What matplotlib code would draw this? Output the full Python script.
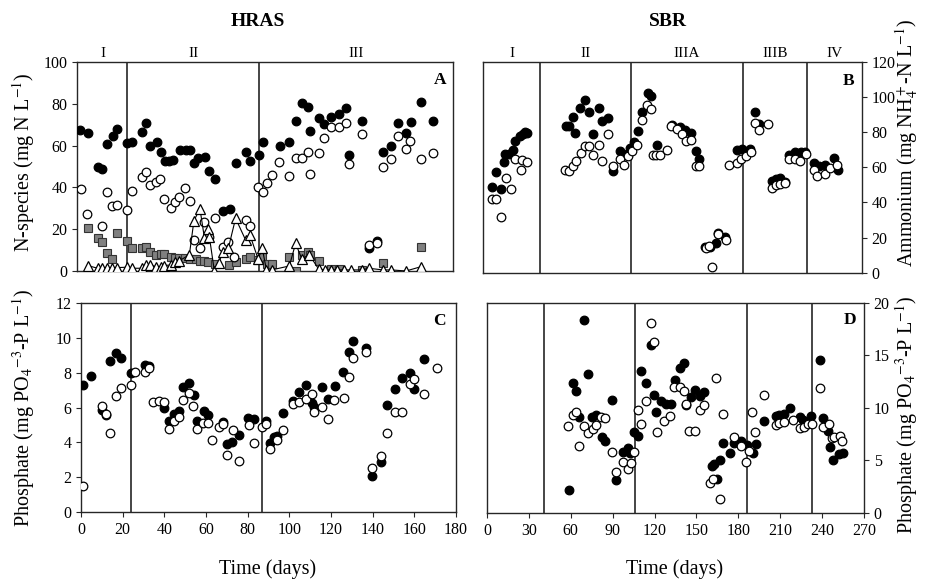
import matplotlib
matplotlib.use("Agg")
import matplotlib.pyplot as plt
import matplotlib.transforms as mtransforms

plt.rcParams['font.family'] = 'Liberation Serif'
plt.rcParams['mathtext.fontset'] = 'stix'

# ---- HRAS, panel A (N-species) ----
a_filled_day = [1, 5, 10, 12, 14, 17, 19, 24, 26, 31, 33, 35, 38, 40, 42, 44, 46, 49, 52, 54,
                56, 58, 61, 63, 66, 70, 73, 76, 81, 83, 87, 89, 97, 101.5, 104.7, 107.6, 110.7,
                111.7, 115.7, 118.5, 121.7, 125.7, 128.7, 130.5, 136.7, 139.7, 143.7, 146.7,
                150.7, 153.7, 157.7, 160, 165, 170.5]
a_filled_val = [67.5, 65.9, 49.6, 48.6, 60.8, 64.6, 67.9, 61.1, 61.9, 66.7, 71, 60, 61.6, 57.1,
                52.6, 52.6, 53, 57.9, 57.9, 57.9, 51.8, 53.9, 54.7, 47.8, 44, 28.9, 29.5, 51.5,
                56.8, 52.6, 55.5, 61.6, 60, 61.9, 71.9, 80.2, 78.6, 67, 73, 70.3, 73.5, 75.1,
                78.1, 55.5, 71.9, 11.2, 14.4, 57.1, 59.8, 70.7, 66.2, 71.5, 80.7, 71.8]

a_open_day = [1.7, 4.7, 11.9, 14, 16.7, 18.8, 23.9, 26, 30.8, 32.7, 35, 37.5, 39.7, 41.7, 44.9,
              46.8, 48.7, 51.8, 53.9, 55.9, 58.8, 60.9, 63.1, 66, 69.7, 72.4, 75.3, 80.7, 82.8,
              86.5, 88.9, 90.8, 93.5, 96.9, 101.7, 104.7, 107.7, 110.7, 111.7, 115.7, 118.5,
              121.7, 125.7, 128.7, 130.5, 136.7, 139.7, 143.7, 146.7, 150.7, 153.7, 157.7,
              159.7, 164.7, 170.5]
a_open_val = [39, 27.1, 21.5, 38, 31.3, 31.6, 29.2, 38.3, 45, 47.5, 41.1, 42.4, 44, 34.3, 30.3,
              32.9, 35.6, 39.9, 33.7, 14.8, 11.2, 23.6, 16.4, 25.2, 11.3, 14, 6.9, 24.4, 21.7,
              40.4, 38, 41.9, 45.9, 52, 45.6, 53.9, 53.9, 57.1, 46.3, 56.6, 63.5, 68.7, 68.7,
              71, 51, 65.6, 12.4, 13.2, 49.9, 53.4, 64.6, 58.4, 62.4, 53.4, 56.3]

a_sq_day = [4.9, 9.7, 11.9, 14, 16.7, 18.8, 23.6, 26, 30.8, 32.7, 35, 37.7, 39.9, 41.7, 44.9,
            46.8, 48.7, 51.7, 54, 56.7, 58.7, 60.9, 62.8, 66, 72.7, 75.9, 80.7, 82.8, 86.8,
            88.8, 90.8, 93.5, 101.7, 104.7, 107.7, 110.5, 111.7, 115.7, 121.5, 125.5, 136.7,
            146.7, 164.7]
a_sq_val = [20.4, 15.6, 14, 8.5, 5.6, 18.3, 14.4, 11.2, 10.8, 11.6, 9.3, 7.7, 8, 8, 6.9,
            6.4, 6.1, 6, 5.5, 5.5, 5, 5, 4.5, 3.2, 2.9, 4.1, 5.7, 6.9, 5.3,
            6.9, 3.2, 3.2, 6.5, 0, 7.7, 9.3, 7.7, 4.9, 0.8, 0.8, 0.5,
            3.7, 11.6]

a_tri_day = [4.9, 9.7, 11.7, 14, 16.7, 18.8, 23.7, 26, 30.8, 32.7, 35, 37.7, 39.9, 41.7, 44.9,
             46.8, 48.7, 53.7, 55.9, 58.8, 60.9, 62.8, 63.3, 65.7, 67.9, 69.7, 72.4, 75.9, 80.7,
             82.8, 86.7, 88.7, 90.7, 93.2, 101.7, 104.7, 107.7, 111.3, 115.7, 118.7, 121.7,
             124.7, 128, 131.2, 136.7, 139.7, 146.7, 150.7, 157.7, 164.7]
a_tri_val = [2.6, 1.3, 1.3, 1.3, 1.3, 1.6, 1.8, 1.3, 1.3, 2.9, 2.9, 2, 2, 2.6, 2.9,
             4.5, 4.8, 7.7, 24.1, 29.7, 16, 20.1, 16.4, 0, 3.7, 9.3, 10.8, 25.2, 14.8,
             17.2, 5.7, 10.8, 0.5, 0.5, 2.4, 13.2, 5.7, 7.7, 1, 0.5, 0.5,
             0.5, 0.5, 0.5, 0.5, 1.3, 0.5, 0.5, 0, 2]

# ---- SBR, panel B (ammonium) ----
b_filled_day = [6, 8.8, 12.7, 14.8, 15.5, 18.6, 21.4, 22.6, 26.2, 28.1, 29.7, 31.4, 59, 61.4,
                63.8, 65.4, 69, 72.6, 75.5, 78.6, 82.6, 84.5, 89.2, 92.3, 97.6, 102.3, 104.7,
                107.6, 110.5, 113.3, 117.4, 119.4, 124.2, 134.5, 140.4, 144, 148, 151.9, 154.2,
                158.2, 161.8, 166.1, 167.8, 172.6, 180.9, 184.4, 190.3, 193.9, 197, 206, 209,
                211.8, 215.4, 217.8, 222.5, 226.7, 229.6, 236.3, 239.7, 244, 250.4, 253.4]
b_filled_val = [48.8, 57.3, 47.6, 62.9, 67.6, 67.6, 70.1, 75.2, 77.7, 79, 80, 79.6, 83.4, 83.4,
                88.6, 79.6, 93.5, 98.1, 91.6, 79, 93.5, 86.3, 88.2, 57.7, 69.1, 67.8, 71,
                74.3, 80.6, 91.4, 102.5, 100.6, 72.6, 84, 82.9, 81.5, 79.6, 69.1, 64.8,
                14.9, 14.9, 16.8, 22.5, 20.6, 70.1, 70.5, 70.5, 91.4, 84.4, 52.4, 53.5,
                53.9, 51.6, 67.2, 68.6, 68.8, 68.8, 62.5, 60.6, 61.5, 65.3, 58.7]

b_open_day = [6, 8.8, 12.7, 16, 19.7, 22.6, 26.6, 27.8, 30.9, 58.3, 61.4, 63.8, 65.9, 69.5,
              72.6, 75.7, 78.6, 82.2, 84.5, 89.2, 92.8, 97.6, 100.4, 103.5, 105.9, 109.5,
              113.1, 116.7, 119.4, 120.9, 123.2, 126.1, 130.9, 133.7, 138, 141.6, 144.7, 148,
              151.9, 154.2, 158.9, 161.3, 163, 167.8, 173.2, 175.6, 180.9, 184, 187.5, 190.8,
              193.9, 197, 203.2, 206, 209, 211.8, 215.4, 217.8, 222.5, 226, 230.3, 236.3, 238,
              244, 247.5, 252.2]
b_open_val = [41.9, 42.1, 32, 53.9, 47.6, 65, 58.3, 64.4, 63, 58.7, 58.1, 60.6, 63.4, 68.2,
              72.4, 72, 67.2, 72.6, 63.4, 79.2, 61, 64.8, 61.5, 66.7, 69.1, 72.6,
              87.2, 95.4, 93.3, 67.2, 67.2, 67.2, 70.1, 83.8, 82, 78.7, 75.2, 75.8,
              61, 61, 14.3, 15.2, 3.4, 22.1, 18.7, 61.1, 62.5, 64.8, 66.3, 68.6,
              85.3, 81, 84.8, 48.2, 50.1, 50.5, 51, 65, 65, 63.4, 67.6, 58.7, 54.9,
              56.4, 59.6, 61.5]

# ---- HRAS, panel C (phosphate) ----
c_filled_day = [1.1, 4.8, 9.9, 12, 13.9, 16.8, 19, 23.8, 30.7, 32.8, 39.8, 42, 44.6, 47, 48.8,
                52, 54.1, 55.8, 59, 60.8, 68, 69.9, 72.6, 76, 80.3, 83.2, 88.6, 90.7, 92.8,
                93.9, 96.8, 101.6, 104.8, 107.8, 111, 112, 115.5, 118.7, 121.9, 125.6, 128.6,
                130.7, 136.8, 139.8, 143.8, 146.7, 150.7, 153.9, 157.9, 159.8, 164.6]
c_filled_val = [7.29, 7.81, 5.85, 5.57, 8.69, 9.12, 8.83, 8.0, 8.45, 8.39, 5.95, 5.24, 5.62,
                5.82, 7.2, 7.39, 6.72, 5.24, 5.82, 5.57, 5.18, 3.9, 4.03, 4.41, 5.37, 5.32,
                5.24, 3.99, 4.32, 4.38, 5.66, 6.37, 6.91, 7.29, 6.24, 6.01, 7.16, 6.49, 7.24,
                8.02, 9.16, 9.83, 9.44, 2.07, 2.88, 6.14, 7.04, 7.68, 7.97, 7.04, 8.77]

c_open_day = [1.1, 9.9, 12, 13.9, 16.8, 19, 23.8, 25.9, 30.7, 32.8, 34.7, 37.6, 39.8, 42, 44.6,
              47, 48.8, 52, 53.9, 55.8, 58.7, 60.8, 62.7, 66, 68, 69.9, 72.8, 75.8, 80.8, 83,
              86.7, 88.8, 90.7, 93.9, 96.8, 101.6, 104.8, 107.8, 110.7, 111.8, 115.8, 118.7,
              121.6, 126, 128.6, 130.7, 136.8, 139.8, 143.8, 146.7, 150.7, 153.9, 157.9, 159.8,
              164.6, 170.7]
c_open_val = [1.48, 6.1, 5.6, 4.51, 6.66, 7.14, 7.29, 8.06, 8.06, 8.29, 6.33, 6.37, 6.3, 4.74,
              5.22, 5.43, 6.43, 6.81, 6.1, 4.74, 5.12, 5.12, 4.13, 4.89, 5.03, 3.26, 4.7, 2.94,
              4.99, 3.99, 4.86, 5.03, 3.59, 4.13, 4.7, 6.18, 6.33, 6.49, 6.76, 5.76, 6.01, 5.32,
              6.43, 6.53, 7.74, 8.83, 9.16, 2.53, 3.22, 4.55, 5.76, 5.76, 7.35, 7.62,
              6.78, 8.29]

# ---- SBR, panel D (phosphate) ----
d_filled_day = [58.5, 61.6, 63.7, 65.6, 69.7, 72.3, 75.2, 78.3, 82.3, 84.7, 89.5, 92.6, 97.4,
                100.7, 102.6, 105.5, 107.9, 110.5, 113.8, 117.4, 119.8, 121.2, 124.8, 128.4,
                132, 134.6, 138, 140.8, 142.5, 146, 148.7, 152.9, 155.1, 161.1, 162.3, 164.7,
                167.1, 168.7, 174.2, 176.6, 182.1, 186.2, 190.5, 192.7, 198.6, 207.2, 209.5,
                212.4, 217.2, 224.3, 226.2, 232, 238.7, 240.4, 244, 245.8, 247.5, 251.8, 254.9]
d_filled_val = [2.19, 12.4, 11.6, 9.17, 18.4, 13.2, 9.17, 9.33, 7.27, 6.89, 10.8, 3.14, 5.84,
                6.16, 5.68, 7.68, 7.37, 13.5, 12.4, 16, 11.2, 9.59, 10.7, 10.4,
                10.4, 12.7, 13.8, 14.3, 10.3, 11, 11.7, 11.1, 11.5, 4.48, 4.67, 3.21,
                5.05, 6.63, 5.68, 6.63, 6.89, 6.48, 5.68, 6.57, 8.76, 9.24, 9.33,
                9.43, 9.97, 9.17, 8.86, 9.24, 14.6, 9.02, 7.81, 6.25, 5.05, 5.59, 5.68]

d_open_day = [58, 61.3, 63.7, 65.6, 69.7, 72.3, 75.7, 78.3, 81.6, 84.7, 89.5, 92.6, 97.4, 100.7,
              103.3, 105.5, 107.9, 110.5, 113.8, 117.7, 119.3, 121.7, 126.5, 131.3, 134.1, 138,
              140.8, 142.5, 144.8, 148.7, 152.9, 155.1, 160, 161.8, 163.9, 167.1, 168.7, 177,
              181.9, 185.4, 188, 189.8, 192.1, 198.1, 207.2, 208.8, 212.4, 219.1, 223.9, 226.7,
              229.6, 232.8, 238.7, 240.4, 244.6, 246.9, 248.2, 252.5, 254.6]
d_open_val = [8.32, 9.33, 9.59, 6.41, 8.32, 7.59, 7.97, 8.38, 9.11, 9.02, 5.84, 3.94, 4.89, 4.16,
              4.73, 5.78, 9.81, 8.48, 10.7, 18.1, 16.3, 7.75, 8.79, 9.27, 12, 12,
              11.6, 10.4, 7.84, 7.84, 9.81, 10.3, 2.9, 3.2, 12.9, 1.33, 9.4, 7.2,
              6.41, 4.83, 5.94, 9.59, 7.75, 11.2, 8.38, 8.54, 8.63, 8.86, 8.06, 8.16,
              8.48, 8.48, 11.9, 8.22, 8.44, 7.17, 7.27, 7.37, 6.86]

# phase boundaries and labels
hras_lines = [24, 87]
hras_phases = ['I', 'II', 'III']
sbr_lines_b = [40.5, 105.4, 185, 231.3]
sbr_lines_d = [40.6, 105.7, 186, 232.7]
sbr_phases = ['I', 'II', 'IIIA', 'IIIB', 'IV']

fig = plt.figure(figsize=(9.39, 5.79), dpi=100)
axA = fig.add_axes([0.0825, 0.532, 0.3994, 0.361])
axB = fig.add_axes([0.5147, 0.529, 0.403, 0.364])
axC = fig.add_axes([0.0863, 0.1157, 0.3994, 0.361])
axD = fig.add_axes([0.5186, 0.114, 0.4015, 0.3627])

ms = 6.2
fill_kw = dict(ls='none', marker='o', ms=ms, mfc='black', mec='black', mew=0.9, zorder=3)
open_kw = dict(ls='none', marker='o', ms=ms, mfc='white', mec='black', mew=0.9, zorder=4)

# panel A
axA.plot(a_filled_day, a_filled_val, **fill_kw)
axA.plot(a_open_day, a_open_val, **open_kw)
axA.plot(a_sq_day, a_sq_val, ls='none', marker='s', ms=5.5, mfc='#808080', mec='#333333',
         mew=0.8, zorder=3)
axA.plot(a_tri_day, a_tri_val, '-', color='black', lw=0.8, marker='^', ms=7, mfc='white',
         mec='black', mew=0.9, zorder=5)
axA.set_xlim(0, 180)
axA.set_ylim(0, 100)
axA.set_yticks(range(0, 101, 20))
axA.set_xticks([])

# panel B
axB.plot(b_filled_day, b_filled_val, **fill_kw)
axB.plot(b_open_day, b_open_val, **open_kw)
axB.set_xlim(0, 270)
axB.set_ylim(0, 120)
axB.set_xticks([])
axB.yaxis.tick_right()
axB.set_yticks(range(0, 121, 20))

# panel C
axC.plot(c_filled_day, c_filled_val, **fill_kw)
axC.plot(c_open_day, c_open_val, **open_kw)
axC.set_xlim(0, 180)
axC.set_ylim(0, 12)
axC.set_xticks(range(0, 181, 20))
axC.set_yticks(range(0, 13, 2))

# panel D
axD.plot(d_filled_day, d_filled_val, **fill_kw)
axD.plot(d_open_day, d_open_val, **open_kw)
axD.set_xlim(0, 270)
axD.set_ylim(0, 20)
axD.set_xticks(range(0, 271, 30))
axD.yaxis.tick_right()
axD.set_yticks(range(0, 21, 5))

for ax, lines in [(axA, hras_lines), (axC, hras_lines), (axB, sbr_lines_b), (axD, sbr_lines_d)]:
    for x in lines:
        ax.axvline(x, color='#262626', lw=1.2, zorder=1)
    for s in ax.spines.values():
        s.set_linewidth(1.0)
        s.set_color('#262626')
    ax.tick_params(direction='out', length=3.5, width=0.8, labelsize=11.5, colors='#262626',
                   labelcolor='black')

# phase labels above the top panels
for ax, lines, phases, xmax in [(axA, hras_lines, hras_phases, 180), (axB, sbr_lines_b, sbr_phases, 270)]:
    edges = [0] + lines + [xmax]
    trans = mtransforms.blended_transform_factory(ax.transData, ax.transAxes)
    for i, p in enumerate(phases):
        ax.text((edges[i] + edges[i + 1]) / 2, 1.01, p, transform=trans, ha='center',
                va='bottom', fontsize=11)

for ax, lab, xy in [(axA, 'A', (0.967, 0.914)), (axB, 'B', (0.966, 0.91)),
                    (axC, 'C', (0.955, 0.914)), (axD, 'D', (0.963, 0.919))]:
    ax.text(xy[0], xy[1], lab, transform=ax.transAxes, ha='center', va='center',
            fontsize=12.5, fontweight='bold')

fig.text(258 / 939, 1 - 22 / 579, 'HRAS', ha='center', va='center', fontsize=14, fontweight='bold')
fig.text(668 / 939, 1 - 22 / 579, 'SBR', ha='center', va='center', fontsize=14, fontweight='bold')

lab_fs = 14.5
fig.text(24 / 939, 1 - 162 / 579, 'N-species (mg N L$^{-1}$)', rotation=90, ha='center',
         va='center', fontsize=lab_fs)
fig.text(24 / 939, 1 - 408 / 579, 'Phosphate (mg PO$_4$$^{-3}$-P L$^{-1}$)', rotation=90,
         ha='center', va='center', fontsize=lab_fs)
fig.text(907 / 939, 1 - 143 / 579, 'Ammonium (mg NH$_4^+$-N L$^{-1}$)', rotation=90,
         ha='center', va='center', fontsize=lab_fs)
fig.text(907 / 939, 1 - 415 / 579, 'Phosphate (mg PO$_4$$^{-3}$-P L$^{-1}$)', rotation=90,
         ha='center', va='center', fontsize=lab_fs)
fig.text(268 / 939, 1 - 569 / 579, 'Time (days)', ha='center', va='center', fontsize=lab_fs)
fig.text(675 / 939, 1 - 569 / 579, 'Time (days)', ha='center', va='center', fontsize=lab_fs)

fig.savefig('out.png', dpi=100)
